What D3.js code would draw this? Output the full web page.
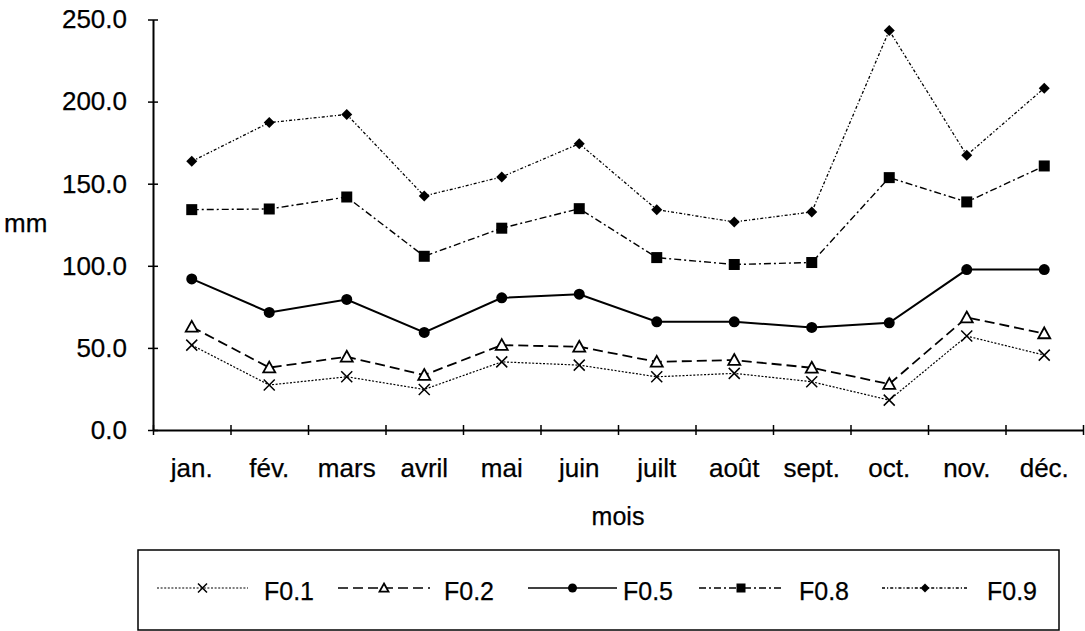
<!DOCTYPE html>
<html>
<head>
<meta charset="utf-8">
<script src="https://cdn.jsdelivr.net/npm/d3@7"></script>
<style>
  html, body { margin: 0; padding: 0; background: #fff; }
  svg { display: block; }
  text { font-family: "Liberation Sans", Arial, Helvetica, sans-serif; fill: #000; stroke: #000; stroke-width: 0.25px; }
</style>
</head>
<body>
<svg id="chart" width="1085" height="631"></svg>
<script>
const months = ["jan.", "fév.", "mars", "avril", "mai", "juin", "juilt", "août", "sept.", "oct.", "nov.", "déc."];
const yTicks = [0, 50, 100, 150, 200, 250];
const seriesNames = ["F0.1", "F0.2", "F0.5", "F0.8", "F0.9"];
const f01 = [51.7, 27.4, 32.4, 24.7, 41.5, 39.5, 32.4, 34.5, 29.4, 18.2, 57.2, 45.6];
const f02 = [62.8, 38.0, 44.6, 33.5, 51.7, 50.7, 41.5, 42.6, 37.9, 28.0, 68.5, 58.8];
const f05 = [92.0, 71.6, 79.5, 59.4, 80.5, 82.7, 65.9, 65.9, 62.5, 65.3, 97.7, 97.7];
const f08 = [134.2, 134.6, 141.9, 105.8, 122.9, 134.8, 105.0, 100.8, 102.0, 153.7, 138.9, 160.8];
const f09 = [163.6, 187.2, 192.2, 142.5, 154.1, 174.4, 134.2, 126.7, 132.8, 243.3, 167.3, 208.2];

(function () {
const seriesData = [f01, f02, f05, f08, f09];
const styles = [
  { dash: "2,1.6", width: 1.2, marker: "x" },
  { dash: "10,5", width: 1.8, marker: "tri" },
  { dash: null, width: 2, marker: "circle" },
  { dash: "7,3,2,3", width: 1.4, marker: "square" },
  { dash: "3,2,1.2,2", width: 1.3, marker: "diamond" }
];

const svg = d3.select("#chart");
const pL = 153, pR = 1083, pT = 19.5, pB = 430;

const x = d3.scaleBand().domain(months).range([pL, pR]).paddingInner(0).paddingOuter(0);
const xb = d3.scaleLinear().domain([0, months.length]).range([pL, pR]);
const y = d3.scaleLinear().domain([0, 250]).range([pB, pT]);

// Y axis
const yAxis = svg.append("g").attr("transform", `translate(${pL},0)`)
  .call(d3.axisLeft(y).tickValues(yTicks).tickFormat(d3.format(".1f")).tickSizeInner(5).tickSizeOuter(0).tickPadding(21));
yAxis.select(".domain").attr("stroke", "#000").attr("stroke-width", 2);
yAxis.selectAll(".tick line").attr("x1", 5).attr("stroke", "#000").attr("stroke-width", 1.5);
yAxis.selectAll(".tick text").attr("font-size", 26).attr("font-family", "Liberation Sans, Arial, sans-serif").attr("fill", "#000");

// X axis (labels centred in bands, ticks at band boundaries)
const xAxis = svg.append("g").attr("transform", `translate(0,${pB})`)
  .call(d3.axisBottom(x).tickSize(0).tickPadding(29));
xAxis.select(".domain").attr("stroke", "#000").attr("stroke-width", 2);
xAxis.selectAll(".tick text").attr("font-size", 26).attr("font-family", "Liberation Sans, Arial, sans-serif").attr("fill", "#000");
const xTicks = svg.append("g").attr("transform", `translate(0,${pB})`)
  .call(d3.axisBottom(xb).tickValues(d3.range(0, months.length + 1)).tickSizeInner(5).tickSizeOuter(0).tickFormat(""));
xTicks.select(".domain").remove();
xTicks.selectAll(".tick line").attr("y1", -5).attr("stroke", "#000").attr("stroke-width", 1.5);

// Axis titles
svg.append("text").attr("x", (pL + pR) / 2).attr("y", 525).attr("text-anchor", "middle").attr("font-size", 25).text("mois");
svg.append("text").attr("x", 4).attr("y", 232).attr("font-size", 26).text("mm");

// Markers
function drawMarker(g, type, cx, cy, s) {
  if (type === "x") {
    g.append("path").attr("d", `M${cx - s},${cy - s}L${cx + s},${cy + s}M${cx - s},${cy + s}L${cx + s},${cy - s}`)
      .attr("stroke", "#000").attr("stroke-width", 1.5).attr("fill", "none");
  } else if (type === "tri") {
    g.append("path").attr("d", `M${cx},${cy - s}L${cx + s},${cy + s * 0.8}L${cx - s},${cy + s * 0.8}Z`)
      .attr("stroke", "#000").attr("stroke-width", 1.8).attr("fill", "#fff");
  } else if (type === "circle") {
    g.append("circle").attr("cx", cx).attr("cy", cy).attr("r", s).attr("fill", "#000");
  } else if (type === "square") {
    g.append("rect").attr("x", cx - s).attr("y", cy - s).attr("width", 2 * s).attr("height", 2 * s).attr("fill", "#000");
  } else if (type === "diamond") {
    g.append("path").attr("d", `M${cx},${cy - s}L${cx + s},${cy}L${cx},${cy + s}L${cx - s},${cy}Z`).attr("fill", "#000");
  }
}
const plotSizes = { x: 5.5, tri: 6, circle: 5.5, square: 5.5, diamond: 5.5 };
const legSizes = { x: 4.5, tri: 4.5, circle: 4.5, square: 4.5, diamond: 4.5 };

const line = d3.line().x((d, i) => x(months[i]) + x.bandwidth() / 2).y(d => y(d));
seriesData.forEach((vals, si) => {
  const st = styles[si];
  const g = svg.append("g");
  g.append("path").datum(vals).attr("d", line).attr("fill", "none").attr("stroke", "#000")
    .attr("stroke-width", st.width).attr("stroke-dasharray", st.dash);
  vals.forEach((v, i) => drawMarker(g, st.marker, x(months[i]) + x.bandwidth() / 2, y(v), plotSizes[st.marker]));
});

// Legend
const legend = svg.append("g");
legend.append("rect").attr("x", 138).attr("y", 550).attr("width", 921).attr("height", 80)
  .attr("fill", "none").attr("stroke", "#000").attr("stroke-width", 1.5);
const legX = [157, 338, 528, 699, 882];
const legLineW = [91, 92, 89, 84, 86];
const legTextX = [264, 444, 623, 799, 987];
const legY = 588;
seriesNames.forEach((name, si) => {
  const st = styles[si];
  legend.append("line").attr("x1", legX[si]).attr("x2", legX[si] + legLineW[si]).attr("y1", legY).attr("y2", legY)
    .attr("stroke", "#000").attr("stroke-width", Math.min(st.width, 1.5)).attr("stroke-dasharray", st.dash);
  drawMarker(legend, st.marker, legX[si] + legLineW[si] / 2, legY, legSizes[st.marker]);
  legend.append("text").attr("x", legTextX[si]).attr("y", 600).attr("font-size", 25).text(name);
});
})();
</script>
</body>
</html>
